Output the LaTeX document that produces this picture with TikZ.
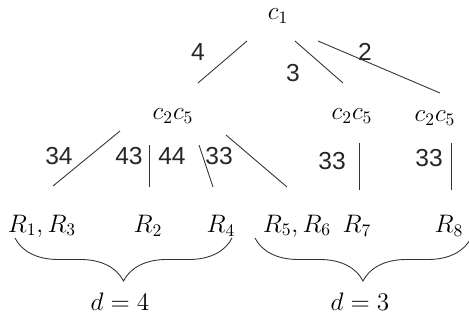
\documentclass[tikz,border=0pt]{standalone}
\usepackage{fontspec}
\setsansfont{Liberation Sans}
\usetikzlibrary{calc,decorations.pathreplacing}

\begin{document}
\begin{tikzpicture}[
    x=0.02cm, y=-0.02cm,
    sym/.style={inner sep=1pt, font=\fontsize{14}{16}\selectfont},
    weight/.style={inner sep=1pt, text=black!85, font=\sffamily\fontsize{14}{16}\selectfont},
    edge/.style={line width=0.5pt, black!80},
    group/.style={line width=0.5pt, black!80, decorate, decoration={brace, mirror, amplitude=0.86cm}},
  ]
  \useasboundingbox (0,0) rectangle (469,325);

  % Root
  \node[sym] (c1) at (278,16) {$c_1$};

  % Second level
  \node[sym] (left) at (173,116) {$c_2c_5$};
  \node[sym] (mid) at (352,116) {$c_2c_5$};
  \node[sym] (right) at (435,118) {$c_2c_5$};

  % Leaves
  \node[sym] (r13) at (42,226) {$R_1,R_3$};
  \node[sym] (r2) at (148,226) {$R_2$};
  \node[sym] (r4) at (221,226) {$R_4$};
  \node[sym] (r56) at (297,226) {$R_5,R_6$};
  \node[sym] (r7) at (357,226) {$R_7$};
  \node[sym] (r8) at (449,226) {$R_8$};

  % Weights
  \node[weight] (w4) at (198,52) {4};
  \node[weight] (w3) at (293,73) {3};
  \node[weight] (w2) at (365,52) {2};
  \node[weight] (w34) at (59,156) {34};
  \node[weight] (w43) at (129,156) {43};
  \node[weight] (w44) at (172,156) {44};
  \node[weight] (w33a) at (219,156) {33};
  \node[weight] (w33b) at (332,161) {33};
  \node[weight] (w33c) at (429,158) {33};

  % Edges
  \draw[edge] ($(c1)+(-31,25)$) -- ($(left)+(25,-33)$);
  \draw[edge] ($(c1)+(17,25)$) -- ($(mid)+(-9,-33)$);
  \draw[edge] ($(c1)+(40,25)$) -- ($(right)+(5,-25)$);
  \draw[edge] ($(left)+(-53,15)$) -- ($(r13)+(11,-40)$);
  \draw[edge] ($(left)+(-24,29)$) -- ($(r2)+(1,-39)$);
  \draw[edge] ($(left)+(26,29)$) -- ($(r4)+(-8,-39)$);
  \draw[edge] ($(left)+(53,19)$) -- ($(r56)+(-10,-39)$);
  \draw[edge] ($(mid)+(7,27)$) -- ($(r7)+(2,-36)$);
  \draw[edge] ($(right)+(16,25)$) -- ($(r8)+(2,-36)$);

  % Groups
  \draw[group] (15,238) -- (232,238);
  \draw[group] (255,238) -- (471,238);
  \node[sym] (d4) at (120,302) {$d=4$};
  \node[sym] (d3) at (360,302) {$d=3$};
\end{tikzpicture}
\end{document}
